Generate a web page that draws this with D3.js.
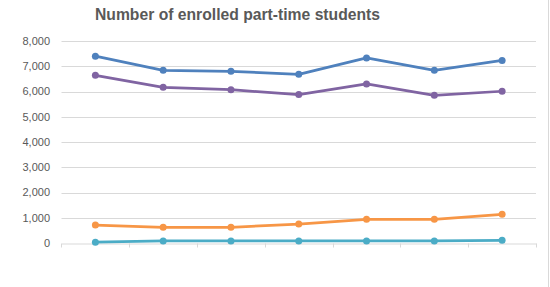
<!DOCTYPE html>
<html>
<head>
<meta charset="utf-8">
<script src="https://cdn.jsdelivr.net/npm/d3@7"></script>
<style>
  body { margin: 0; background: #fff; }
  svg { display: block; font-family: "Liberation Sans", Arial, sans-serif; }
</style>
</head>
<body>
<svg id="chart" width="550" height="287"></svg>
<script>
// categories have no visible labels
var categories = [1, 2, 3, 4, 5, 6, 7]
var yTicks = [0, 1000, 2000, 3000, 4000, 5000, 6000, 7000, 8000]

var seriesBlue = [7400, 6840, 6800, 6680, 7330, 6840, 7230]
var seriesPurple = [6640, 6165, 6070, 5880, 6300, 5850, 6010]
var seriesOrange = [710, 620, 620, 750, 940, 940, 1135]
var seriesTeal = [30, 80, 80, 80, 80, 80, 105]

var series = [
  {values: seriesBlue, color: "#4F81BD"},
  {values: seriesPurple, color: "#8064A2"},
  {values: seriesOrange, color: "#F79646"},
  {values: seriesTeal, color: "#4BACC6"}
]

var svg = d3.select("#chart")
var margin = {top: 41, bottom: 44, left: 61.5, right: 14}
var width = 550 - margin.left - margin.right
var height = 287 - margin.top - margin.bottom

var x = d3.scaleBand()
          .domain(categories)
          .range([margin.left, margin.left + width])

var y = d3.scaleLinear()
          .domain([0, 8000])
          .range([margin.top + height, margin.top])

// title
svg.append("text")
   .attr("x", 95)
   .attr("y", 20)
   .attr("font-size", "16px")
   .attr("font-weight", "bold")
   .attr("fill", "#595959")
   .attr("textLength", 285)
   .attr("lengthAdjust", "spacingAndGlyphs")
   .text("Number of enrolled part-time students")

// gridlines
svg.append("g")
   .selectAll("line")
   .data(yTicks.filter(function(d){ return d > 0 }))
   .enter()
   .append("line")
   .attr("x1", margin.left)
   .attr("x2", margin.left + width)
   .attr("y1", function(d){ return Math.round(y(d)) + 0.5 })
   .attr("y2", function(d){ return Math.round(y(d)) + 0.5 })
   .attr("stroke", "#D9D9D9")
   .attr("stroke-width", 1)

// y labels
svg.append("g")
   .selectAll("text")
   .data(yTicks)
   .enter()
   .append("text")
   .attr("x", 50)
   .attr("y", function(d){ return y(d) })
   .attr("dy", "0.35em")
   .attr("text-anchor", "end")
   .attr("font-size", "11px")
   .attr("fill", "#595959")
   .text(function(d){ return d3.format(",")(d) })

// x axis with tick marks at band edges
var xAxis = d3.axisBottom(x).tickSize(0).tickFormat("")
var gx = svg.append("g")
            .attr("transform", "translate(0," + (Math.round(y(0)) + 0.5) + ")")
            .call(xAxis)
gx.select(".domain").attr("stroke", "#D9D9D9")
gx.selectAll(".tick").remove()
var edges = categories.map(function(c){ return x(c) }).concat([margin.left + width])
gx.selectAll("line.edge")
  .data(edges)
  .enter()
  .append("line")
  .attr("class", "edge")
  .attr("x1", function(d){ return Math.round(d) + 0.5 })
  .attr("x2", function(d){ return Math.round(d) + 0.5 })
  .attr("y1", 0)
  .attr("y2", 4)
  .attr("stroke", "#D9D9D9")

// right border of chart area
svg.append("line")
   .attr("x1", 548.5).attr("x2", 548.5)
   .attr("y1", 0).attr("y2", 287)
   .attr("stroke", "#D9D9D9")

var line = d3.line()
             .x(function(d, i){ return x(categories[i]) + x.bandwidth() / 2 })
             .y(function(d){ return y(d) })

var groups = svg.append("g")
                .selectAll("g")
                .data(series)
                .enter()
                .append("g")

groups.append("path")
      .attr("d", function(d){ return line(d.values) })
      .attr("fill", "none")
      .attr("stroke", function(d){ return d.color })
      .attr("stroke-width", 2.75)
      .attr("stroke-linejoin", "round")
      .attr("stroke-linecap", "round")

groups.selectAll("circle")
      .data(function(d){ return d.values.map(function(v){ return {v: v, color: d.color} }) })
      .enter()
      .append("circle")
      .attr("cx", function(d, i){ return x(categories[i]) + x.bandwidth() / 2 })
      .attr("cy", function(d){ return y(d.v) })
      .attr("r", 3.5)
      .attr("fill", function(d){ return d.color })
</script>
</body>
</html>
